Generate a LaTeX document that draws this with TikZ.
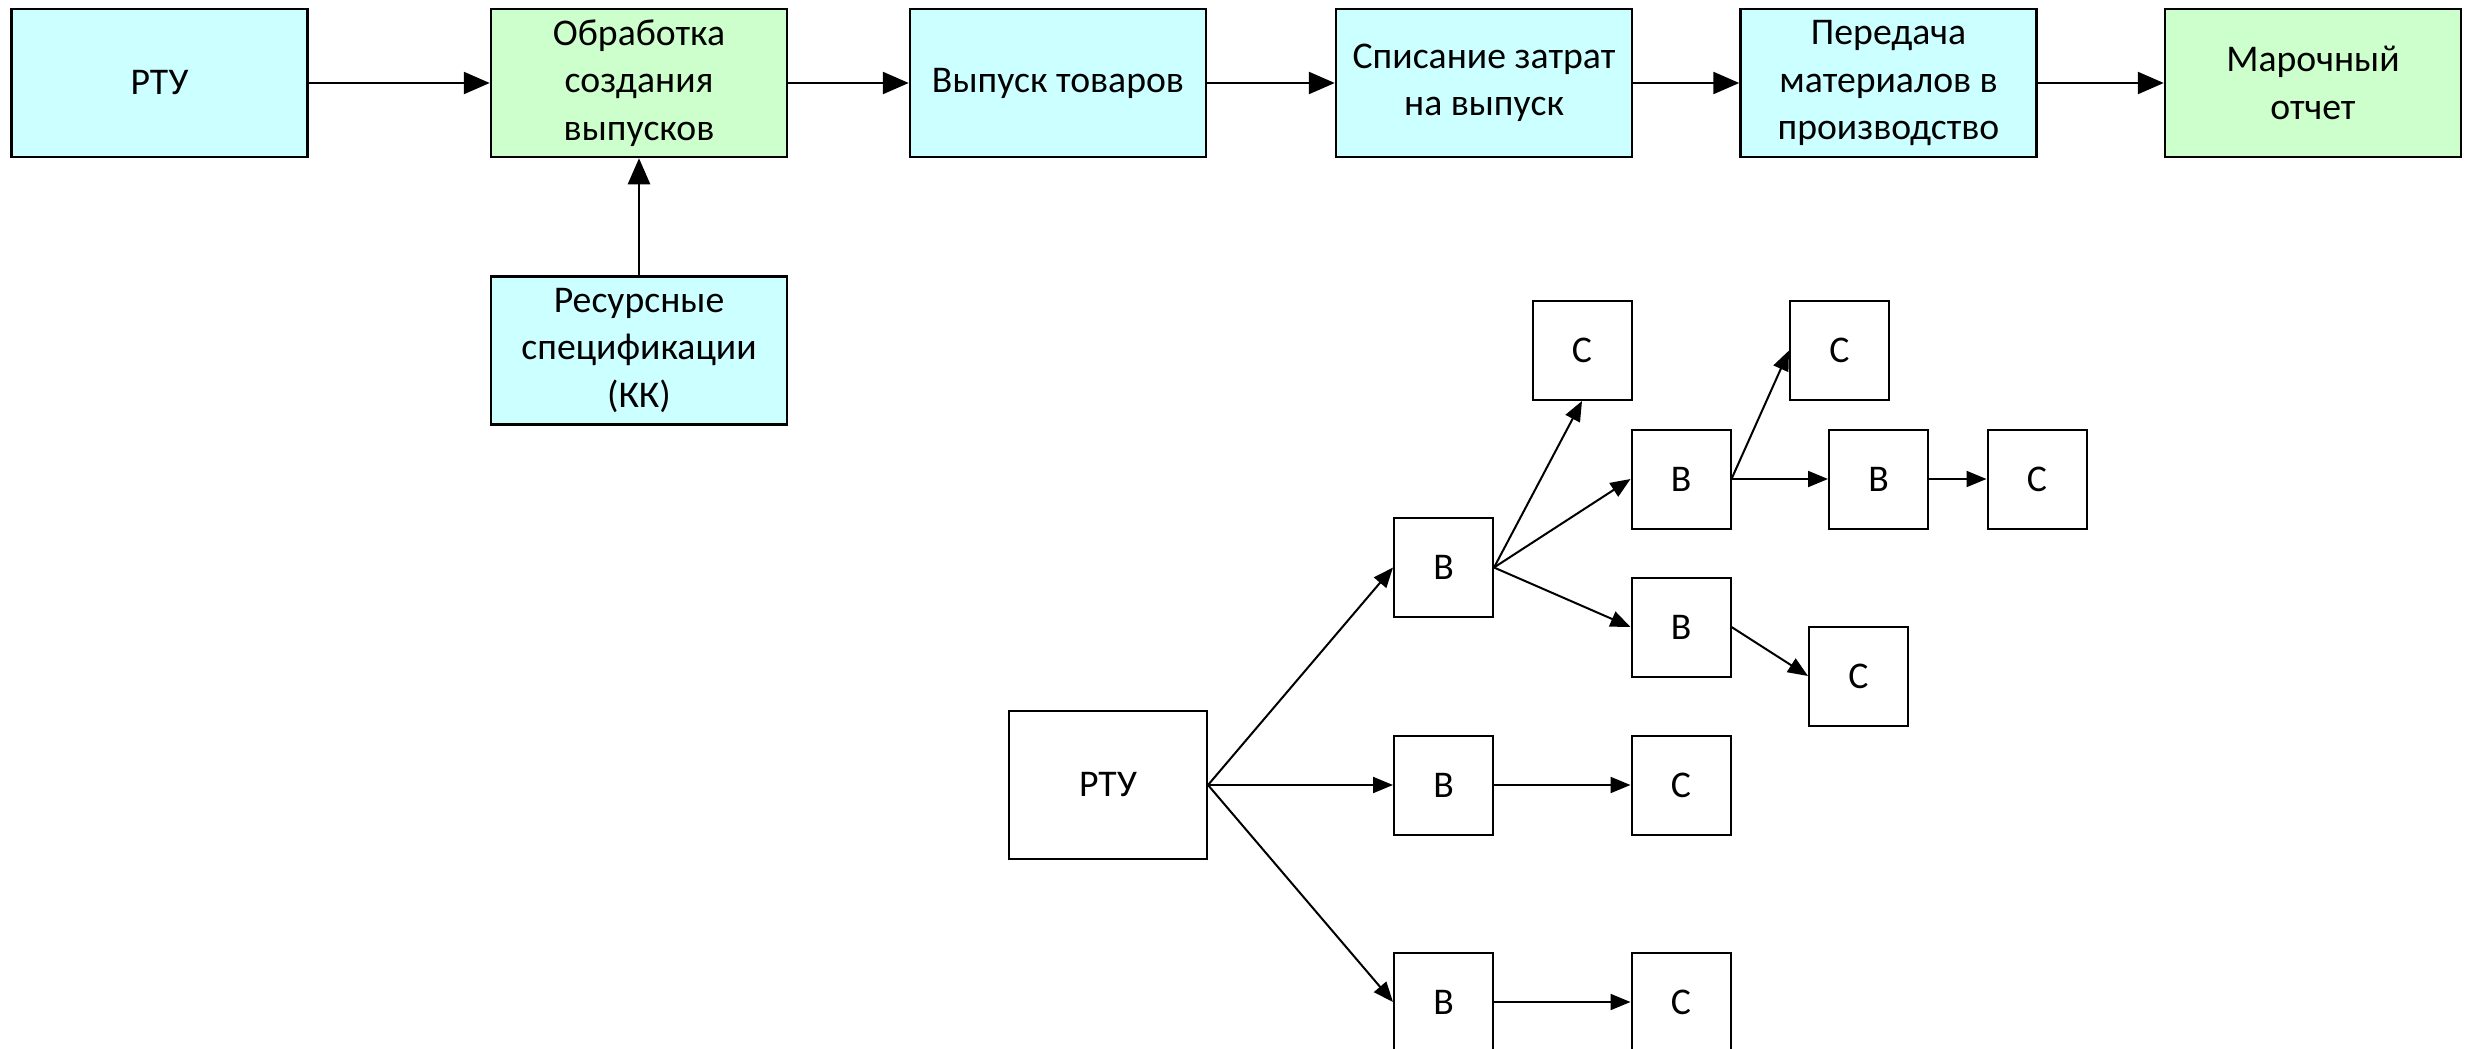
\documentclass[tikz,border=0pt]{standalone}
\usepackage{fontspec}
\setmainfont{Carlito}
\usetikzlibrary{arrows.meta}
\definecolor{cyanfill}{HTML}{CCFFFF}
\definecolor{greenfill}{HTML}{CCFFCC}
\begin{document}
\begin{tikzpicture}[x=1pt,y=-1pt,
  topbox/.style={draw=black,line width=2.5pt,minimum width=296pt,minimum height=148pt,inner sep=0pt,align=center,font=\fontsize{37.7}{47.5}\selectfont},
  cbox/.style={topbox,fill=cyanfill},
  gbox/.style={topbox,fill=greenfill},
  smallbox/.style={draw=black,line width=2pt,minimum width=99pt,minimum height=99pt,inner sep=0pt,align=center,font=\fontsize{37.7}{47.5}\selectfont},
  toparrow/.style={line width=2.5pt,-{Triangle[length=26pt,width=22pt]}},
  botarrow/.style={line width=2pt,-{Triangle[length=20pt,width=16pt]}}]
\useasboundingbox (0,0) rectangle (2470,1049);
% top row
\node[cbox] (t1) at (159.5,83) {РТУ};
\node[gbox] (t2) at (639,83) {Обработка\\создания\\выпусков};
\node[cbox] (t3) at (1058,83) {Выпуск товаров};
\node[cbox] (t4) at (1484,83) {Списание затрат\\на выпуск};
\node[cbox] (t5) at (1888.5,83) {Передача\\материалов в\\производство};
\node[gbox] (t6) at (2313,83) {Марочный\\отчет};
\node[cbox] (res) at (639,350.5) {Ресурсные\\спецификации\\(КК)};
\draw[toparrow] (t1) -- (t2);
\draw[toparrow] (t2) -- (t3);
\draw[toparrow] (t3) -- (t4);
\draw[toparrow] (t4) -- (t5);
\draw[toparrow] (t5) -- (t6);
\draw[toparrow] (res) -- (t2);
% bottom tree
\node[smallbox,minimum width=198pt,minimum height=148pt] (r) at (1108,785) {РТУ};
\node[smallbox] (b1) at (1443.5,567.5) {В};
\node[smallbox] (c1) at (1582,350.5) {С};
\node[smallbox] (b2) at (1681,479) {В};
\node[smallbox] (c2) at (1839.5,350.5) {С};
\node[smallbox] (b3) at (1878.5,479) {В};
\node[smallbox] (c3) at (2037,479) {С};
\node[smallbox] (b4) at (1681,627) {В};
\node[smallbox] (c4) at (1858.5,676) {С};
\node[smallbox] (b5) at (1443.5,785) {В};
\node[smallbox] (c5) at (1681,785) {С};
\node[smallbox] (b6) at (1443.5,1002) {В};
\node[smallbox] (c6) at (1681,1002) {С};
\draw[botarrow] (r.east) -- (b1.west);
\draw[botarrow] (r.east) -- (b5.west);
\draw[botarrow] (r.east) -- (b6.west);
\draw[botarrow] (b1.east) -- (c1.south);
\draw[botarrow] (b1.east) -- (b2.west);
\draw[botarrow] (b1.east) -- (b4.west);
\draw[botarrow] (b2.east) -- (c2.west);
\draw[botarrow] (b2.east) -- (b3.west);
\draw[botarrow] (b3.east) -- (c3.west);
\draw[botarrow] (b4.east) -- (c4.west);
\draw[botarrow] (b5.east) -- (c5.west);
\draw[botarrow] (b6.east) -- (c6.west);
\end{tikzpicture}
\end{document}
